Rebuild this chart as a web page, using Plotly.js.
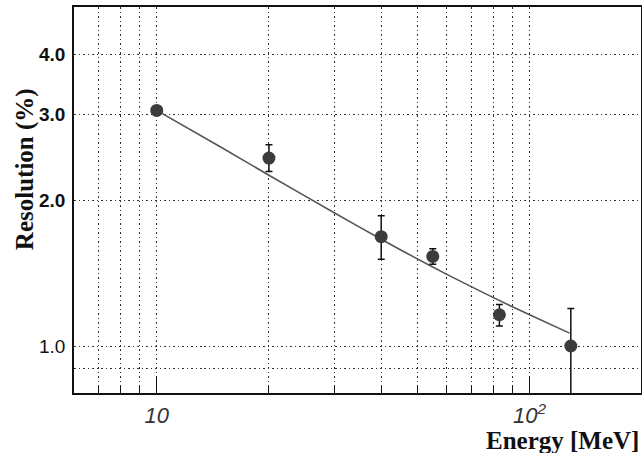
<!DOCTYPE html>
<html>
<head>
<meta charset="utf-8">
<script src="https://cdn.plot.ly/plotly-3.0.1.min.js"></script>
<style>html,body{margin:0;padding:0;background:#fff;}#chart{width:642px;height:453px;}</style>
</head>
<body>
<div id="chart"></div>
<script>
// Measured data points
const energy = [10, 20, 40, 55, 83, 129];
const resolution = [3.06, 2.44, 1.68, 1.53, 1.16, 1.00];
const errPlus = [0, 0.16, 0.175, 0.057, 0.058, 0.195];
const errMinus = [0, 0.15, 0.17, 0.055, 0.06, 0.25];

// Fit curve
const fitEnergy = [10, 15, 20, 30, 40, 50, 60, 80, 100, 128];
const fitResolution = [3.06, 2.56, 2.25, 1.88, 1.66, 1.512, 1.405, 1.258, 1.16, 1.063];

// Tick definitions
const xMajorTicks = [10, 100];
const xMajorText = ["10", "10<sup>2</sup>"];
const xMinorTicks = [7, 8, 9, 20, 30, 40, 50, 60, 70, 80, 90];
const yTicks = [1, 2, 3, 4];
const yTickText = ["1.0", "<b>2.0</b>", "<b>3.0</b>", "<b>4.0</b>"];
const yMinorTicks = [0.9];

const gridDash = "1.5px,3px";
const gridColor = "#333";

const traces = [
  {
    x: fitEnergy, y: fitResolution, type: "scatter", mode: "lines",
    line: {color: "#555", width: 1.6, shape: "spline", smoothing: 0.6},
    hoverinfo: "skip", showlegend: false
  },
  {
    x: energy, y: resolution, type: "scatter", mode: "markers",
    marker: {color: "#3c3c3c", size: 13},
    error_y: {type: "data", symmetric: false, array: errPlus, arrayminus: errMinus,
              color: "#111", thickness: 1.5, width: 3.5},
    showlegend: false
  }
];

const layout = {
  width: 642, height: 453,
  margin: {l: 74, r: 1, t: 7, b: 60, pad: 0},
  paper_bgcolor: "#fff", plot_bgcolor: "#fff",
  showlegend: false,
  xaxis: {
    type: "log",
    range: [Math.log10(6), Math.log10(199)],
    tickmode: "array", tickvals: xMajorTicks, ticktext: xMajorText,
    ticks: "inside", ticklen: 17, tickwidth: 1.5, tickcolor: "#111",
    tickfont: {family: "Liberation Sans, Arial, sans-serif", size: 22, color: "#333", style: "italic"},
    ticklabelstandoff: 2,
    showgrid: true, gridcolor: gridColor, griddash: gridDash, gridwidth: 1,
    minor: {tickmode: "array", tickvals: xMinorTicks, ticks: "inside", ticklen: 7,
            tickwidth: 1, tickcolor: "#111", showgrid: true, gridcolor: gridColor,
            griddash: gridDash, gridwidth: 1},
    showline: true, linecolor: "#111", linewidth: 1.8, mirror: true,
    zeroline: false
  },
  yaxis: {
    type: "log",
    range: [Math.log10(0.8), Math.log10(5)],
    tickmode: "array", tickvals: yTicks, ticktext: yTickText,
    ticks: "",
    tickfont: {family: "Liberation Sans, Arial, sans-serif", size: 19, color: "#111"},
    ticklabelstandoff: 3,
    showgrid: true, gridcolor: gridColor, griddash: gridDash, gridwidth: 1,
    minor: {tickmode: "array", tickvals: yMinorTicks, ticks: "", showgrid: true,
            gridcolor: gridColor, griddash: gridDash, gridwidth: 1},
    showline: true, linecolor: "#111", linewidth: 1.8, mirror: true,
    zeroline: false
  },
  annotations: [
    {
      text: "<b>Energy [MeV]</b>", xref: "paper", yref: "paper",
      x: 1.0, y: -0.122, xanchor: "right", yanchor: "middle", showarrow: false,
      font: {family: "Liberation Serif, Times New Roman, serif", size: 25, color: "#111"}
    },
    {
      text: "<b>Resolution (%)</b>", xref: "paper", yref: "paper",
      x: -0.0864, y: 0.58, xanchor: "center", yanchor: "middle", showarrow: false,
      textangle: -90,
      font: {family: "Liberation Serif, Times New Roman, serif", size: 25, color: "#111"}
    }
  ]
};

Plotly.newPlot("chart", traces, layout, {displayModeBar: false, staticPlot: true});
</script>
</body>
</html>
